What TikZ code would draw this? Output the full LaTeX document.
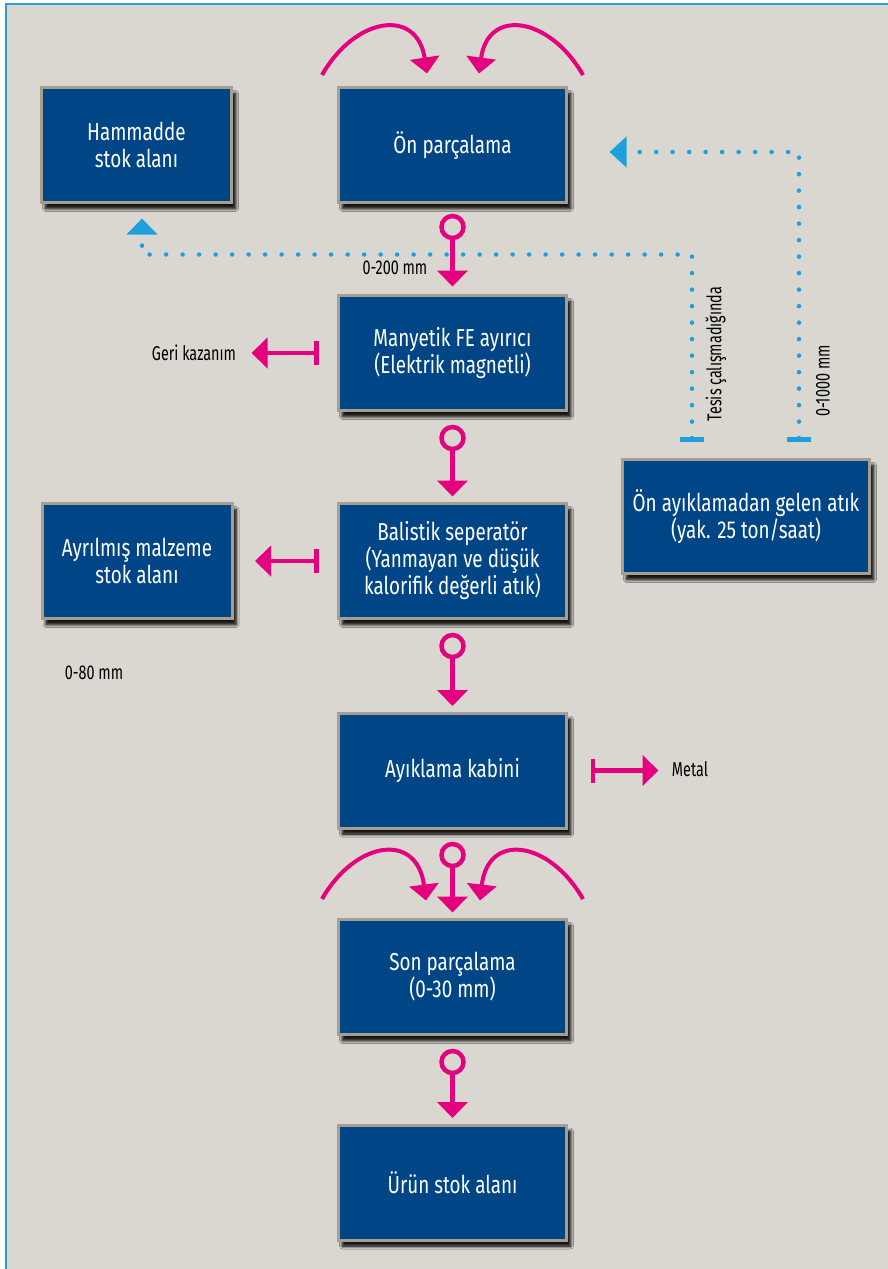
\documentclass[tikz,border=0pt]{standalone}
\usepackage{fontspec}
\setmainfont{Fira Sans}[FakeStretch=0.72]
\newfontfamily\boxfont{Fira Sans}[FakeStretch=0.77]
\usetikzlibrary{arrows.meta,shadows.blur}

\begin{document}
\begin{tikzpicture}[x=1pt,y=-1pt,
    stepbox/.style={shape=rectangle,draw=boxedge,line width=3pt,fill=boxblue,text=white,
      minimum width=228pt,minimum height=115pt,align=center,
      font=\boxfont\fontsize{24.5}{27}\selectfont,
      blur shadow={shadow xshift=6pt,shadow yshift=-8pt,shadow blur radius=7pt,shadow opacity=60},
      blur shadow={shadow xshift=4pt,shadow yshift=-6pt,shadow blur radius=3pt,shadow opacity=70}},
    sidebox/.style={stepbox,minimum width=190pt},
    ring/.style={circle,draw=flowpink,line width=4.5pt,inner sep=0pt,minimum size=22pt},
    flow/.style={draw=flowpink,line width=4.5pt,-{Triangle[width=30pt,length=16pt]}},
    sideflow/.style={draw=flowpink,line width=4.5pt,{Bar[width=24pt]}-{Triangle[width=30pt,length=16pt]}},
    curveflow/.style={draw=flowpink,line width=4pt,-{Triangle[width=29pt,length=16pt]}},
    dotline/.style={draw=dotblue,line width=4.5pt,line cap=round,dash pattern=on 0pt off 16.5pt},
    note/.style={font=\fontsize{20}{22}\selectfont,text=black}]
    \definecolor{boxblue}{RGB}{0,70,135}
    \definecolor{boxedge}{RGB}{166,158,144}
    \definecolor{flowpink}{RGB}{228,0,127}
    \definecolor{dotblue}{RGB}{30,160,220}
    \definecolor{edgeblue}{RGB}{47,155,213}
    \definecolor{panelgray}{RGB}{218,215,208}
    \useasboundingbox (0,0) rectangle (888,1269);
    \fill[white] (0,0) rectangle (888,1269);
    \fill[panelgray] (6,4) rectangle (888,1269);
    \draw[edgeblue,line width=2.5pt] (6,1269) -- (6,4) -- (888,4);

    % main line
    \node[stepbox] (on) at (452.5,145) {Ön parçalama};
    \node[stepbox] (man) at (452.5,353) {Manyetik FE ayırıcı\\(Elektrik magnetli)};
    \node[stepbox] (bal) at (452.5,561) {Balistik seperatör\\(Yanmayan ve düşük\\kalorifik değerli atık)};
    \node[stepbox] (ayik) at (452.5,770.5) {Ayıklama kabini};
    \node[stepbox] (son) at (452.5,977) {Son parçalama\\(0-30 mm)};
    \node[stepbox] (urun) at (452.5,1182.5) {Ürün stok alanı};
    % side boxes
    \node[sidebox] (hamm) at (136.5,145) {Hammadde\\stok alanı};
    \node[sidebox] (ayr) at (137,561) {Ayrılmış malzeme\\stok alanı};
    \node[stepbox,minimum width=247pt,minimum height=114pt] (onay) at (746,516.5) {Ön ayıklamadan gelen atık\\(yak. 25 ton/saat)};

    \node[ring] (r1) at (452.5,227) {};
    \node[ring] (r2) at (452.5,438) {};
    \node[ring] (r3) at (452.5,646) {};
    \node[ring] (r4) at (452.5,855) {};
    \node[ring] (r5) at (452.5,1062) {};
    \draw[flow] (r1) -- ([yshift=7.5pt]man.north);
    \draw[flow] (r2) -- ([yshift=5.5pt]bal.north);
    \draw[flow] (r3) -- ([yshift=5.5pt]ayik.north);
    \draw[flow] (r4) -- ([yshift=5.5pt]son.north);
    \draw[flow] (r5) -- ([yshift=5.5pt]urun.north);

    % feed curves
    \coordinate (ula) at (322,75);
    \coordinate (ura) at (583,75);
    \coordinate (lla) at (322,899);
    \coordinate (lra) at (583,899);
    \draw[curveflow] (ula) .. controls (355,17) and (417,7) .. ([xshift=-25.5pt,yshift=12.5pt]on.north);
    \draw[curveflow] (ura) .. controls (550,17) and (488,7) .. ([xshift=26.5pt,yshift=12.5pt]on.north);
    \draw[curveflow] (lla) .. controls (355,841) and (417,831) .. ([xshift=-26.5pt,yshift=17.5pt]son.north);
    \draw[curveflow] (lra) .. controls (550,841) and (488,831) .. ([xshift=27.5pt,yshift=17.5pt]son.north);

    % side outputs
    \node[note] (geri) at (194,353) {Geri kazanım};
    \node[note] (metal) at (690,769) {Metal};
    \draw[sideflow] ([xshift=-18.5pt]man.west) -- ([xshift=-85.5pt]man.west);
    \draw[sideflow] ([xshift=-18.5pt]bal.west) -- ([xshift=21.5pt]ayr.east);
    \draw[sideflow] ([xshift=22.5pt]ayik.east) -- ([xshift=90.5pt]ayik.east);

    % return lines
    \draw[dotline,{Bar[width=24pt]}-{Triangle[width=30pt,length=16pt]}] ([xshift=-54pt,yshift=16.5pt]onay.north) |- ([xshift=5.5pt,yshift=-50.5pt]hamm.south) -- ([xshift=5.5pt,yshift=-14.5pt]hamm.south);
    \draw[dotline,{Bar[width=24pt]}-{Triangle[width=30pt,length=17pt]}] ([xshift=53pt,yshift=16.5pt]onay.north) |- ([xshift=41.5pt,yshift=-7pt]on.east);

    \node[note] (lbl200) at (395,268) {0-200 mm};
    \node[note] (lbl80) at (94,673) {0-80 mm};
    \node[note,rotate=90] (tesis) at (716,354) {Tesis çalışmadığında};
    \node[note,rotate=90] (lbl1000) at (823,381) {0-1000 mm};
\end{tikzpicture}
\end{document}
